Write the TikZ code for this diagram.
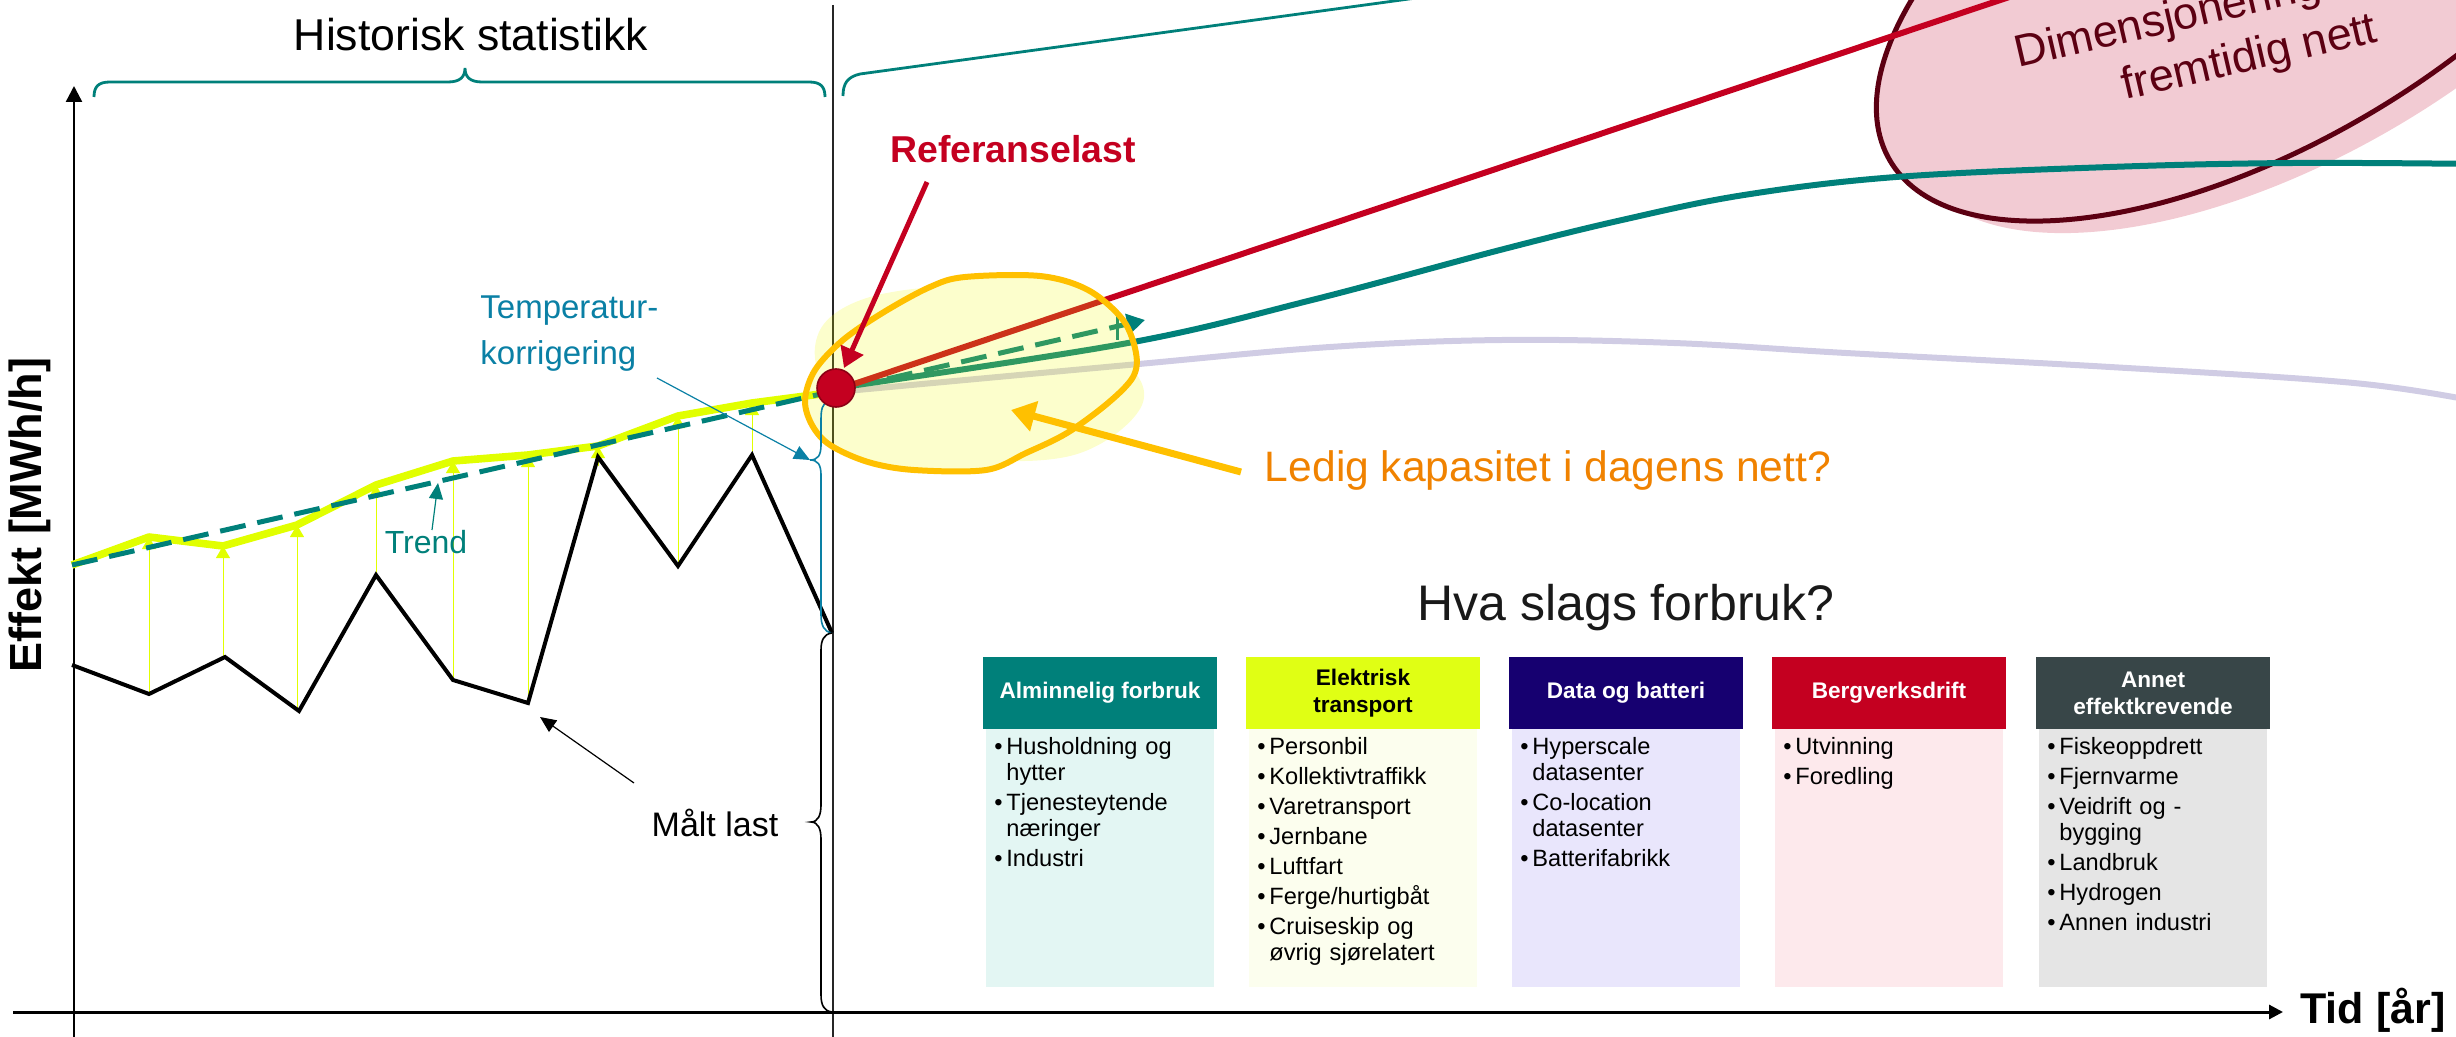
\documentclass[tikz,border=0pt]{standalone}
\usepackage{fontspec}
\setmainfont{Liberation Sans}
\usetikzlibrary{arrows.meta}
\definecolor{tealc}{RGB}{0,128,122}
\definecolor{redc}{RGB}{196,0,32}
\definecolor{reddark}{RGB}{140,0,20}
\definecolor{lavc}{RGB}{208,204,228}
\definecolor{limec}{RGB}{225,255,0}
\definecolor{maroonc}{RGB}{92,0,18}
\definecolor{pinkc}{RGB}{242,203,211}
\definecolor{orangec}{RGB}{255,192,0}
\definecolor{orangetxt}{RGB}{240,130,0}
\definecolor{bluec}{RGB}{10,128,165}
\definecolor{yfill}{RGB}{238,250,0}
\definecolor{hone}{RGB}{0,128,122}
\definecolor{htwo}{RGB}{224,255,20}
\definecolor{hthree}{RGB}{22,0,112}
\definecolor{hfour}{RGB}{196,0,32}
\definecolor{hfive}{RGB}{56,70,72}
\definecolor{bone}{RGB}{227,246,243}
\definecolor{btwo}{RGB}{252,254,238}
\definecolor{bthree}{RGB}{233,230,252}
\definecolor{bfour}{RGB}{253,233,236}
\definecolor{bfive}{RGB}{229,229,229}
\newcommand{\myitem}[1]{\noindent\hangindent=6pt\hangafter=1\makebox[6pt][l]{•}#1\par\vspace{2pt}}
\begin{document}
\begin{tikzpicture}[x=0.5pt,y=-0.5pt]
\tikzset{
  every node/.style={inner sep=0pt},
  thinarrow/.style={line width=0.6pt,-{Triangle[length=8pt,width=7pt]}},
  limearrow/.style={limec,line width=0.5pt,-{Triangle[length=6pt,width=7pt]}},
  hdr/.style={font=\bfseries\fontsize{11.3}{13.5}\selectfont, align=center},
  bodytxt/.style={anchor=north west, text width=108pt, font=\fontsize{11.8}{13}\selectfont},
  bigcurve/.style={line width=3pt},
}
\useasboundingbox (0,0) rectangle (2456,1037);
\clip (0,0) rectangle (2456,1037);

% future dimensioning ellipse
\fill[pinkc, rotate around={30:(2290,-43)}] (2290,-43) ellipse [x radius=215pt, y radius=100pt];
\fill[pinkc, rotate around={30:(2262,-55)}] (2262,-55) ellipse [x radius=215pt, y radius=100pt];
\draw[maroonc, line width=2.5pt, rotate around={30:(2262,-55)}] (2262,-55) ellipse [x radius=215pt, y radius=100pt];

% braces on top
\draw[tealc, line width=1.4pt] (94,97) .. controls (94,87) and (98,82) .. (110,82) -- (448,82) .. controls (460,82) and (465,77) .. (465,68) .. controls (465,77) and (470,82) .. (482,82) -- (809,82) .. controls (821,82) and (825,87) .. (825,97);
\draw[tealc, line width=1.4pt] (843,96) .. controls (843,84) and (847,77) .. (860,74) -- (1460,-8);

% divider
\draw[black!85, line width=0.7pt] (833,5) -- (833,1040);

% axes
\draw[line width=1.2pt, -{Triangle[length=8pt,width=8pt]}] (74,1040) -- (74,86);
\draw[line width=1.5pt, -{Triangle[length=7pt,width=7pt]}] (13,1012) -- (2283,1012);

% correction arrows
\foreach \x/\a/\b in {149/694/537, 223/657/546, 297/711/525, 376/575/485, 453/680/461, 528/703/455, 598/466/446, 678/566/416, 752/455/403}
  \draw[limearrow] (\x,\a) -- (\x,\b);

% measured load
\draw[line width=2pt] (72,665) -- (149,694) -- (225,657) -- (299,711) -- (376,575) -- (453,680) -- (528,703) -- (598,457) -- (678,566) -- (752,455) -- (832,633);
% corrected load
\draw[limec, line width=3.8pt, line join=round] (72,565) -- (149,537) -- (223,546) -- (297,525) -- (376,485) -- (453,461) -- (528,455) -- (598,446) -- (678,416) -- (752,403) -- (836,392);
% trend
\draw[tealc, line width=2.5pt, dash pattern=on 13pt off 6pt, -{Triangle[length=9pt,width=10pt]}] (72,565) -- (1145,320);
\draw[tealc, line width=1.5pt] (1117,313) -- (1117,340);

% future curves
\coordinate (refc) at (836,390);
\draw[lavc, bigcurve] plot[smooth, tension=0.6] coordinates {(836,392) (1128,365) (1330,347) (1502,340) (1674,343) (1846,353) (2110,367) (2354,383) (2480,402)};
\draw[tealc, bigcurve] plot[smooth, tension=0.6] coordinates {(836,388) (1128,343) (1312,300) (1500,250) (1622,220) (1744,195) (1896,177) (2110,167) (2293,163) (2480,164)};
\draw[redc, bigcurve] (refc) -- (2060,-20);

% free capacity: translucent fill (union of blob and a slightly offset oval), then outline
\fill[yfill, fill opacity=0.2, nonzero rule]
  plot[smooth cycle, tension=0.55] coordinates {(965,277) (930,287) (884,312) (843,340) (815,370) (805,400) (812,425) (830,445) (868,462) (914,470) (986,470) (1026,453) (1067,433) (1108,403) (1133,377) (1136,353) (1123,320) (1088,290) (1040,276)}
  plot[smooth cycle, tension=0.6] coordinates {(1142,405) (1114,352) (1000,292) (882,294) (820,330) (832,392) (944,452) (1070,456)};
\draw[orangec, line width=3pt] plot[smooth cycle, tension=0.55] coordinates {(965,277) (930,287) (884,312) (843,340) (815,370) (805,400) (812,425) (830,445) (868,462) (914,470) (986,470) (1026,453) (1067,433) (1108,403) (1133,377) (1136,353) (1123,320) (1088,290) (1040,276)};

% temperature correction brace
\draw[bluec, line width=0.8pt] (829,401) .. controls (822,403) and (821,410) .. (821,420) -- (821,445) .. controls (821,455) and (818,460) .. (810,460) .. controls (818,460) and (821,465) .. (821,475) -- (821,615) .. controls (821,625) and (824,632) .. (832,633);
% measured load brace
\draw[line width=0.8pt] (832,633) .. controls (824,634) and (821,640) .. (821,650) -- (821,805) .. controls (821,815) and (818,822) .. (811,822) .. controls (818,822) and (821,829) .. (821,839) -- (821,995) .. controls (821,1005) and (824,1011) .. (832,1012);

% texts
\node[font=\fontsize{22.3}{26}\selectfont] (hist) at (471,35) {Historisk statistikk};
\node[rotate=90, font=\bfseries\fontsize{22.5}{26}\selectfont] (ylab) at (30,515) {Effekt [MWh/h]};
\node[anchor=west, font=\bfseries\fontsize{21.5}{25}\selectfont] (xlab) at (2300,1010) {Tid [år]};
\node[anchor=north west, align=left, text=bluec, font=\fontsize{16.5}{23}\selectfont] (temp) at (480,295) {Temperatur-\\korrigering};
\node[text=tealc, font=\fontsize{16}{19}\selectfont] (trend) at (426,542) {Trend};
\node[font=\fontsize{17}{20}\selectfont] (malt) at (715,823) {Målt last};
\node[text=orangetxt, font=\fontsize{21.3}{25}\selectfont] (ledig) at (1548,470) {Ledig kapasitet i dagens nett?};
\node[text=redc, font=\bfseries\fontsize{18.7}{22}\selectfont] (reflab) at (1013,149) {Referanselast};

\coordinate (tempfrom) at (657,378);
\coordinate (tempto) at (810,460);
\draw[bluec, thinarrow] (tempfrom) -- (tempto);
\coordinate (trendfrom) at (432,530);
\coordinate (trendto) at (438,483);
\draw[tealc, thinarrow] (trendfrom) -- (trendto);
\coordinate (maltfrom) at (634,783);
\coordinate (maltto) at (540,717);
\draw[thinarrow] (maltfrom) -- (maltto);
\coordinate (ledfrom) at (1241,472);
\coordinate (ledto) at (1011,410);
\draw[orangec, line width=3.5pt, -{Triangle[length=12pt,width=15pt]}] (ledfrom) -- (ledto);

% reference point
\node[circle, fill=redc, draw=reddark, line width=0.8pt, minimum size=19pt] (ref) at (836,388) {};
\coordinate (reftail) at (927,182);
\coordinate (reftip) at (844,368);
\draw[redc, line width=2.5pt, -{Triangle[length=10pt,width=12pt]}] (reftail) -- (reftip);

% dimensioning text
\node[anchor=base west, rotate=13, text=maroonc, font=\fontsize{22.5}{26}\selectfont] (dimone) at (2018,68) {Dimensjonering};
\node[anchor=base west, rotate=13, text=maroonc, font=\fontsize{22.5}{26}\selectfont] (dimtwo) at (2125,100) {fremtidig nett};

% consumption types
\node[font=\fontsize{25}{29}\selectfont, text=black!90] (hva) at (1626,608) {Hva slags forbruk?};

\fill[hone] (983,657) rectangle (1217,729);
\fill[bone] (986,729) rectangle (1214,987);
\node[hdr, text=white] (hone) at (1100,693) {Alminnelig forbruk};
\node[bodytxt] (bone) at (994,737) {\raggedright
\myitem{Husholdning og\newline hytter}
\myitem{Tjenesteytende\newline næringer}
\myitem{Industri}};

\fill[htwo] (1246,657) rectangle (1480,729);
\fill[btwo] (1249,729) rectangle (1477,987);
\node[hdr, text=black] (htwo) at (1363,693) {Elektrisk\\transport};
\node[bodytxt] (btwo) at (1257,737) {\raggedright
\myitem{Personbil}
\myitem{Kollektivtraffikk}
\myitem{Varetransport}
\myitem{Jernbane}
\myitem{Luftfart}
\myitem{Ferge/hurtigbåt}
\myitem{Cruiseskip og\newline øvrig sjørelatert}};

\fill[hthree] (1509,657) rectangle (1743,729);
\fill[bthree] (1512,729) rectangle (1740,987);
\node[hdr, text=white] (hthree) at (1626,693) {Data og batteri};
\node[bodytxt] (bthree) at (1520,737) {\raggedright
\myitem{Hyperscale\newline datasenter}
\myitem{Co-location\newline datasenter}
\myitem{Batterifabrikk}};

\fill[hfour] (1772,657) rectangle (2006,729);
\fill[bfour] (1775,729) rectangle (2003,987);
\node[hdr, text=white] (hfour) at (1889,693) {Bergverksdrift};
\node[bodytxt] (bfour) at (1783,737) {\raggedright
\myitem{Utvinning}
\myitem{Foredling}};

\fill[hfive] (2036,657) rectangle (2270,729);
\fill[bfive] (2039,729) rectangle (2267,987);
\node[hdr, text=white] (hfive) at (2153,693) {Annet\\effektkrevende};
\node[bodytxt] (bfive) at (2047,737) {\raggedright
\myitem{Fiskeoppdrett}
\myitem{Fjernvarme}
\myitem{Veidrift og -\newline bygging}
\myitem{Landbruk}
\myitem{Hydrogen}
\myitem{Annen industri}};
\end{tikzpicture}
\end{document}
